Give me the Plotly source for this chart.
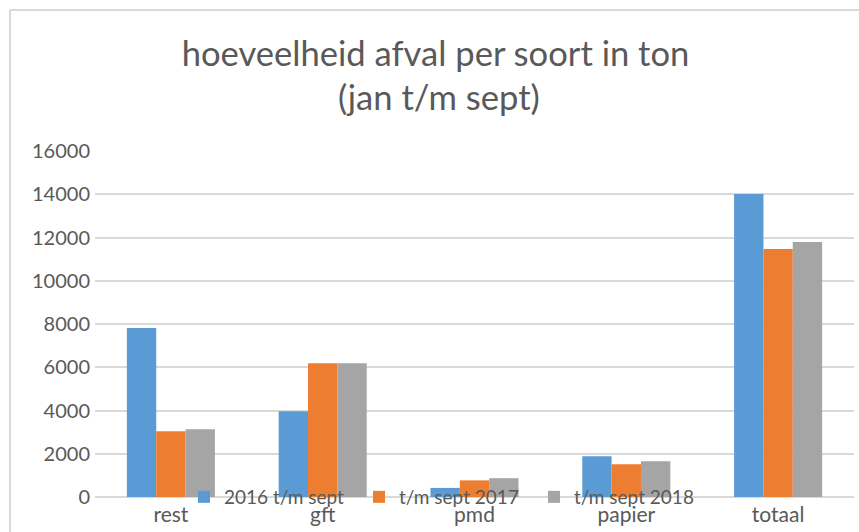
import plotly.graph_objects as go

categories = ["rest", "gft", "pmd", "papier", "totaal"]
series_names = ["2016 t/m sept", "t/m sept 2017", "t/m sept 2018"]
values_2016 = [7810, 3970, 420, 1880, 14010]
values_2017 = [3040, 6190, 770, 1510, 11470]
values_2018 = [3130, 6190, 870, 1650, 11790]
colors = ["#5B9BD5", "#ED7D31", "#A5A5A5"]
y_ticks = [0, 2000, 4000, 6000, 8000, 10000, 12000, 14000, 16000]
title_line1 = "hoeveelheid afval per soort in ton"
title_line2 = "(jan t/m sept)"

W, H = 859, 532
L, R, T, B = 95, 5, 151, 35
pw = W - L - R
ph = H - T - B

fig = go.Figure()
for name, vals, col in zip(series_names, [values_2016, values_2017, values_2018], colors):
    fig.add_trace(go.Bar(name=name, x=categories, y=vals, marker=dict(color=col, line=dict(width=0))))

font = "Lato, 'Open Sans', sans-serif"
text_col = "#595959"

def px_x(p):
    return (p - L) / pw

def px_y(p):
    return (H - B - p) / ph

fig.update_layout(
    width=W, height=H,
    margin=dict(l=L, r=R, t=T, b=B),
    paper_bgcolor="white", plot_bgcolor="white",
    barmode="group", bargap=0.42, bargroupgap=0,
    font=dict(family=font, color=text_col, size=20),
    title=dict(text=title_line1,
               x=435.5 / W, xanchor="center", y=1 - 42 / H, yanchor="top",
               font=dict(family=font, size=34.6, color=text_col)),
    annotations=[dict(text=title_line2, xref="paper", yref="paper",
                      x=px_x(439), y=px_y(96), xanchor="center", yanchor="middle",
                      showarrow=False, font=dict(family=font, size=34.6, color=text_col))],
    xaxis=dict(showgrid=False, showline=False, ticks="", ticklabelstandoff=3,
               tickfont=dict(size=21, color=text_col)),
    yaxis=dict(range=[0, 16000], tickvals=y_ticks, ticktext=[str(v) for v in y_ticks],
               showgrid=True, gridcolor="#d9d9d9", gridwidth=1.5,
               zeroline=True, zerolinecolor="#d9d9d9", zerolinewidth=1.5,
               showline=False, ticks="", ticklabelstandoff=4,
               tickfont=dict(size=20, color=text_col)),
    legend=dict(orientation="h", x=px_x(184), xanchor="left", y=px_y(497), yanchor="middle",
                bgcolor="rgba(0,0,0,0)", font=dict(size=19, color=text_col),
                entrywidth=130, entrywidthmode="pixels", itemclick=False),
    shapes=[
        dict(type="line", xref="paper", yref="paper", x0=px_x(10), x1=px_x(W + 5), y0=px_y(10), y1=px_y(10),
             line=dict(color="#d9d9d9", width=2)),
        dict(type="line", xref="paper", yref="paper", x0=px_x(10), x1=px_x(10), y0=px_y(10), y1=px_y(H + 5),
             line=dict(color="#d9d9d9", width=2)),
    ],
)

fig.write_html("out.html", config={"displayModeBar": False},
               post_script="document.body.style.margin='0px';")
